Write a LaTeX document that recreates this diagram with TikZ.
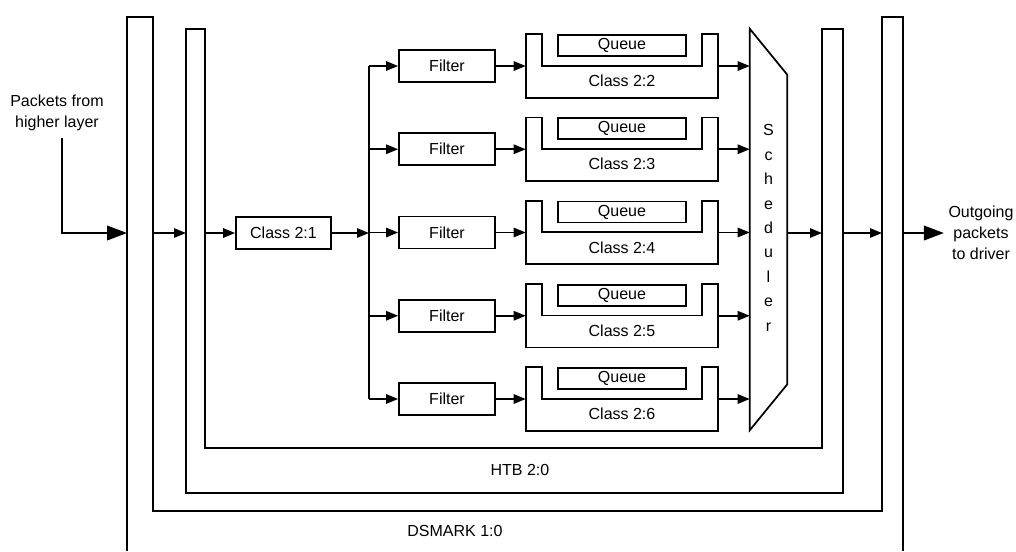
\documentclass[tikz,border=0pt]{standalone}
\usepackage{fontspec}
\setmainfont{Liberation Sans}
\usetikzlibrary{arrows.meta,positioning,calc}
\tikzset{
  wall/.style={line width=1.3pt},
  arr/.style={line width=1.3pt,-{Triangle[length=9pt,width=7pt]}},
  bigarr/.style={line width=1.3pt,-{Triangle[length=15pt,width=11pt]}},
  boxn/.style={draw,line width=1.3pt,minimum width=72pt,minimum height=24pt,inner sep=0pt},
  qbox/.style={draw,line width=1.3pt,minimum width=96pt,minimum height=15.75pt,inner sep=0pt},
  clsn/.style={minimum width=144pt,minimum height=47.25pt,inner sep=0pt},
  lab/.style={align=center,font=\fontsize{12}{15.75}\selectfont},
}
\begin{document}
\begin{tikzpicture}[x=0.75pt,y=-0.75pt,font=\fontsize{12}{15.5}\selectfont]
    \useasboundingbox (0,0) rectangle (1016,551);
    % DSMARK 1:0 -- open at the bottom
    \draw[wall] (127,551) -- (127,17) -- (153,17) -- (153,511) -- (882,511)
      -- (882,17) -- (903,17) -- (903,551);
    \node (dslab) at (455,531) {DSMARK 1:0};
    % HTB 2:0
    \draw[wall] (186,29) -- (205,29) -- (205,448) -- (822,448) -- (822,29)
      -- (843,29) -- (843,493) -- (186,493) -- cycle;
    \node (htblab) at (520,470) {HTB 2:0};
    % where the main flow crosses the walls
    \coordinate (dsLo) at (127,233); \coordinate (dsLi) at (153,233);
    \coordinate (htbLo) at (186,233); \coordinate (htbLi) at (205,233);
    \coordinate (htbRi) at (822,233); \coordinate (htbRo) at (843,233);
    \coordinate (dsRi) at (882,233); \coordinate (dsRo) at (903,233);
    % in and out
    \node[lab] (src) at (57,113) {Packets from\\higher layer};
    \node[lab] (dst) at (981,233) {Outgoing\\packets\\to driver};
    \draw[bigarr] ([xshift=3.75pt,yshift=-2pt]src.south) |- (dsLo);
    \draw[arr] (dsLi) -- (htbLo);
    \node[boxn,minimum width=71.25pt] (c21) at (283.5,233) {Class 2:1};
    \draw[arr] (htbLi) -- (c21);
    % scheduler
    \node[minimum width=27.75pt,minimum height=300.75pt,inner sep=0pt] (sched) at (768.5,229.5) {};
    \draw[wall] (sched.north west) -- ($(sched.north east)+(0,46)$)
      -- ($(sched.south east)+(0,-46)$) -- (sched.south west) -- cycle;
    \node[align=center,font=\fontsize{12}{18.3}\selectfont] (schtxt) at (768.5,228)
      {S\\c\\h\\e\\d\\u\\l\\e\\r};
    % leaf classes 2:2 .. 2:6
    \foreach \k/\n in {0/2,1/3,2/4,3/5,4/6}{
      \pgfmathsetmacro\ry{66+83.25*\k}
      \coordinate (bus\n) at (369,\ry);
      \node[boxn] (flt\n) at (447,\ry) {Filter};
      \node[clsn] (cls\n) at (622,\ry) {};
      \draw[wall] (cls\n.north west) -- (cls\n.south west) -- (cls\n.south east)
        -- (cls\n.north east) -- ++(-16,0) -- ++(0,31.5) -- ++(-160,0) -- ++(0,-31.5) -- cycle;
      \node[qbox,anchor=north] (que\n) at (cls\n.north) {Queue};
      \node (clab\n) at ($(cls\n.center)+(0,15)$) {Class 2:\n};
      \draw[arr] (bus\n) -- (flt\n.west);
      \draw[arr] (flt\n) -- (cls\n);
      \draw[arr] (cls\n.east) -- (cls\n.east -| sched.west);
    }
    \draw[wall] (bus2) -- (bus6);
    \draw[arr] (c21) -- (c21 -| bus2);
    % out through the walls
    \draw[arr] (sched.east |- c21) -- (htbRi);
    \draw[arr] (htbRo) -- (dsRi);
    \draw[bigarr] (dsRo) -- (dst);
\end{tikzpicture}
\end{document}
